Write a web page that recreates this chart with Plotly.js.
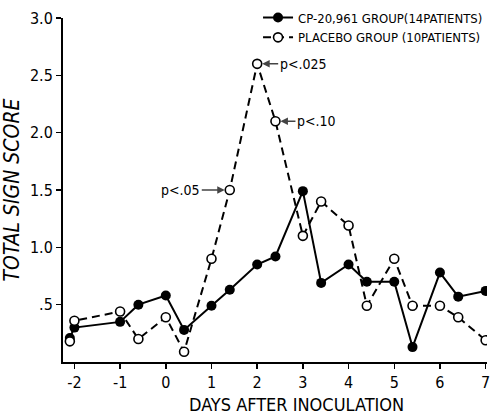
<!DOCTYPE html>
<html>
<head>
<meta charset="utf-8">
<script src="https://cdn.plot.ly/plotly-3.0.1.min.js"></script>
<style>html,body{margin:0;padding:0;background:#fff;}#chart{width:491px;height:418px;}</style>
</head>
<body>
<div id="chart"></div>
<script>
// Day positions (morning / evening readings)
var days = [-2.1, -2, -1, -0.6, 0, 0.4, 1, 1.4, 2, 2.4, 3, 3.4, 4, 4.4, 5, 5.4, 6, 6.4, 7];
// CP-20,961 group (14 patients)
var cpScores = [0.21, 0.30, 0.35, 0.50, 0.58, 0.28, 0.49, 0.63, 0.85, 0.92, 1.49, 0.69, 0.85, 0.70, 0.70, 0.13, 0.78, 0.57, 0.62];
// Placebo group (10 patients)
var placeboScores = [0.18, 0.36, 0.44, 0.20, 0.39, 0.09, 0.90, 1.50, 2.60, 2.10, 1.10, 1.40, 1.19, 0.49, 0.90, 0.49, 0.49, 0.39, 0.19];
var seriesNames = ['CP-20,961 GROUP(14PATIENTS)', 'PLACEBO GROUP (10PATIENTS)'];
var xTickVals = [-2, -1, 0, 1, 2, 3, 4, 5, 6, 7];
var yTickVals = [0.5, 1.0, 1.5, 2.0, 2.5, 3.0];
var yTickText = ['.5', '1.0', '1.5', '2.0', '2.5', '3.0'];
// significance labels
var sigDays = [1.4, 2, 2.4];
var sigScores = [1.50, 2.60, 2.10];
var sigText = ['p<.05', 'p<.025', 'p<.10'];
var xTitle = 'DAYS AFTER INOCULATION';
var yTitle = 'TOTAL SIGN SCORE';

var FONT = 'Liberation Sans Narrow, DejaVu Sans Condensed, Arial Narrow, sans-serif';

var traces = [
  {
    x: days, y: cpScores, name: seriesNames[0], type: 'scatter', mode: 'lines+markers',
    line: {color: '#000', width: 2},
    marker: {symbol: 'circle', size: 10, color: '#000'}
  },
  {
    x: days, y: placeboScores, name: seriesNames[1], type: 'scatter', mode: 'lines+markers',
    line: {color: '#000', width: 2, dash: '8px,5px'},
    marker: {symbol: 'circle', size: 9, color: '#fff', line: {color: '#000', width: 1.6}}
  }
];

var annFont = {family: FONT, size: 14, color: '#000'};
var annotations = [
  {x: sigDays[0], y: sigScores[0], xref: 'x', yref: 'y', text: sigText[0], showarrow: true,
   ax: -28, ay: 0, arrowhead: 2, arrowsize: 1, arrowwidth: 1.5, standoff: 5, xanchor: 'right',
   font: annFont},
  {x: sigDays[1], y: sigScores[1], xref: 'x', yref: 'y', text: sigText[1], showarrow: true,
   ax: 21, ay: 0, arrowhead: 2, arrowsize: 1, arrowwidth: 1.5, standoff: 5, xanchor: 'left',
   font: annFont},
  {x: sigDays[2], y: sigScores[2], xref: 'x', yref: 'y', text: sigText[2], showarrow: true,
   ax: 20, ay: 0, arrowhead: 2, arrowsize: 1, arrowwidth: 1.5, standoff: 5, xanchor: 'left',
   font: annFont},
  {x: 0.55, y: -0.123, xref: 'paper', yref: 'paper', text: xTitle, showarrow: false,
   xanchor: 'center', yanchor: 'middle', font: {family: FONT, size: 18, color: '#000'}}
];

var layout = {
  width: 491, height: 418,
  margin: {l: 63, r: 3, t: 13, b: 56},
  paper_bgcolor: '#fff', plot_bgcolor: '#fff',
  font: {family: FONT, color: '#000', size: 14},
  showlegend: true,
  legend: {
    x: 0.46, y: 1.045, xanchor: 'left', yanchor: 'top',
    bgcolor: 'rgba(0,0,0,0)', font: {family: FONT, size: 13, color: '#000'},
    tracegroupgap: 0, itemwidth: 30
  },
  xaxis: {
    range: [-2.25, 7.03], tickvals: xTickVals, ticktext: xTickVals.map(String),
    showgrid: false, zeroline: false, showline: true, linecolor: '#000', linewidth: 2,
    ticks: 'outside', ticklen: 5, tickwidth: 1.5, tickcolor: '#000',
    tickfont: {family: FONT, size: 16, color: '#000'}
  },
  yaxis: {
    range: [0, 3.0], tickvals: yTickVals, ticktext: yTickText,
    showgrid: false, zeroline: false, showline: true, linecolor: '#000', linewidth: 2,
    ticks: 'outside', ticklen: 5, tickwidth: 1.5, tickcolor: '#000',
    tickfont: {family: FONT, size: 16, color: '#000'},
    title: {text: '<i>' + yTitle + '</i>', font: {family: FONT, size: 21, color: '#000'}, standoff: 8}
  },
  annotations: annotations
};

Plotly.newPlot('chart', traces, layout, {displayModeBar: false, staticPlot: true});
</script>
</body>
</html>
